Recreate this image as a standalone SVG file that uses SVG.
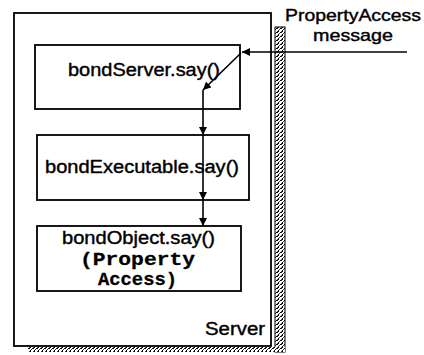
<svg xmlns="http://www.w3.org/2000/svg" width="424" height="355" viewBox="0 0 424 355">
<style>
.box{fill:#fff;stroke:#000;stroke-width:1.8}
.sans{font-family:"Liberation Sans",Arial,sans-serif;fill:#000;stroke:#000;stroke-width:0.4}
.mono{font-family:"Liberation Mono","Courier New",monospace;font-weight:bold;fill:#000;stroke:#000;stroke-width:0.3}
.conn{fill:none;stroke:#000;stroke-width:1.6}
</style>
<defs>
<pattern id="dither" width="4" height="4" patternUnits="userSpaceOnUse">
<rect width="4" height="4" fill="#fff"/>
<rect x="0" y="0" width="2" height="1" fill="#000"/>
<rect x="2" y="2" width="1" height="2" fill="#000"/>
<rect x="3" y="1" width="1" height="1" fill="#333"/>
<rect x="1" y="3" width="1" height="1" fill="#444"/>
</pattern>
<marker id="arr" viewBox="0 0 10 10" refX="10" refY="5" markerWidth="8" markerHeight="8" markerUnits="userSpaceOnUse" orient="auto">
<path d="M0,0 L10,5 L0,10 Z" fill="#000"/>
</marker>
</defs>
<g id="server">
<rect x="275" y="27" width="10" height="325" fill="url(#dither)" stroke="#000" stroke-width="1"/>
<rect x="28" y="347" width="257" height="5" fill="url(#dither)"/>
<rect class="box" x="14" y="13" width="257" height="333"/>
<text class="sans" x="265" y="335" font-size="18" text-anchor="end" textLength="60" lengthAdjust="spacingAndGlyphs">Server</text>
</g>
<g id="bondServer">
<rect class="box" x="35" y="45" width="205" height="64"/>
<text class="sans" x="68" y="76" font-size="18" textLength="152" lengthAdjust="spacingAndGlyphs">bondServer.say()</text>
</g>
<g id="bondExecutable">
<rect class="box" x="37" y="135" width="212" height="65"/>
<text class="sans" x="45" y="173" font-size="18" textLength="194" lengthAdjust="spacingAndGlyphs">bondExecutable.say()</text>
</g>
<g id="bondObject">
<rect class="box" x="37" y="226" width="204" height="65"/>
<text class="sans" x="62" y="244" font-size="18" textLength="153" lengthAdjust="spacingAndGlyphs">bondObject.say()</text>
<text class="mono" x="80" y="265" font-size="19" textLength="115" lengthAdjust="spacingAndGlyphs">(Property</text>
<text class="mono" x="98" y="285" font-size="19" textLength="79" lengthAdjust="spacingAndGlyphs">Access)</text>
</g>
<g id="message">
<text class="sans" x="285" y="21" font-size="17" textLength="136" lengthAdjust="spacingAndGlyphs">PropertyAccess</text>
<text class="sans" x="313" y="41" font-size="17" textLength="80" lengthAdjust="spacingAndGlyphs">message</text>
</g>
<g id="connectors">
<line class="conn" x1="407" y1="52" x2="242" y2="52" marker-end="url(#arr)"/>
<line class="conn" x1="241" y1="53" x2="203" y2="90" marker-end="url(#arr)"/>
<line class="conn" x1="203" y1="90" x2="203" y2="135" marker-end="url(#arr)"/>
<line class="conn" x1="203" y1="135" x2="203" y2="200" marker-end="url(#arr)"/>
<line class="conn" x1="203" y1="200" x2="203" y2="226" marker-end="url(#arr)"/>
</g>
</svg>
